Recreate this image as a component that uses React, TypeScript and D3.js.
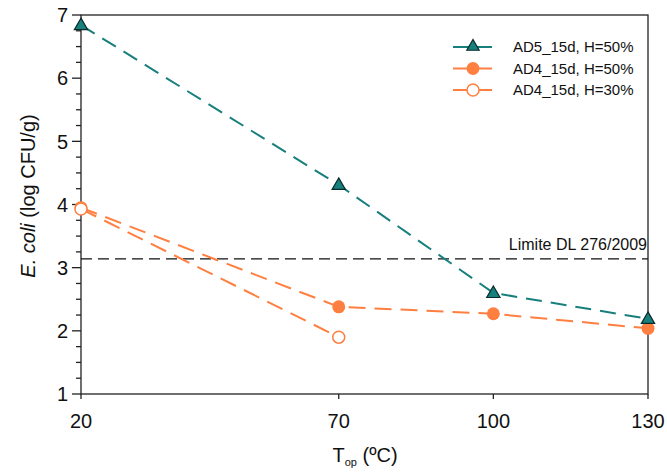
import React from "react";
import * as d3 from "d3";

const temps = [20, 70, 100, 130];
const ad5H50 = [6.84, 4.31, 2.6, 2.19];
const ad4H50 = [3.95, 2.38, 2.27, 2.04];
const ad4H30T = [20, 70];
const ad4H30 = [3.93, 1.9];
const limitValue = 3.14;
const limitLabel = "Limite DL 276/2009";
const yTicks = [1, 2, 3, 4, 5, 6, 7];
const legendLabels = ["AD5_15d, H=50%", "AD4_15d, H=50%", "AD4_15d, H=30%"];

const TEAL = "#17807d";
const ORANGE = "#ff7f40";
const FONT = "Liberation Sans, Arial, sans-serif";

export default function App() {
  const W = 667, H = 472;
  const x = d3.scaleLinear().domain([20, 130]).range([81, 648]);
  const y = d3.scaleLinear().domain([1, 7]).range([394, 15]);
  const line = d3.line<[number, number]>().x(d => x(d[0])).y(d => y(d[1]));
  const minor = d3.range(1, 7.001, 0.25).filter(v => Math.abs(v - Math.round(v)) > 1e-6);

  const s1 = temps.map((t, i) => [t, ad5H50[i]] as [number, number]);
  const s2 = temps.map((t, i) => [t, ad4H50[i]] as [number, number]);
  const s3 = ad4H30T.map((t, i) => [t, ad4H30[i]] as [number, number]);

  const tri = (cx: number, cy: number, r = 7) =>
    `M${cx},${cy - r} L${cx + r * 0.95},${cy + r * 0.65} L${cx - r * 0.95},${cy + r * 0.65} Z`;

  const [x0, x1] = x.range();
  const [yb, yt] = y.range();

  return (
    <svg width={W} height={H} style={{ position: "absolute", left: 0, top: 0, fontFamily: FONT }}>
      <rect width={W} height={H} fill="white" />
      {/* frame */}
      <rect x={x0} y={yt} width={x1 - x0} height={yb - yt} fill="none" stroke="#222" strokeWidth={1.3} />
      {/* y ticks */}
      {yTicks.map(v => (
        <g key={"yt" + v}>
          <line x1={x0 - 9} x2={x0} y1={y(v)} y2={y(v)} stroke="#222" strokeWidth={1.3} />
          <text x={x0 - 13} y={y(v)} dy="0.36em" textAnchor="end" fontSize={20} fill="#111">{v}</text>
        </g>
      ))}
      {minor.map(v => (
        <line key={"ym" + v} x1={x0 - 5} x2={x0} y1={y(v)} y2={y(v)} stroke="#222" strokeWidth={1.3} />
      ))}
      {/* x ticks */}
      {temps.map(t => (
        <g key={"xt" + t}>
          <line x1={x(t)} x2={x(t)} y1={yb} y2={yb + 5} stroke="#222" strokeWidth={1.3} />
          <text x={x(t)} y={yb + 34} textAnchor="middle" fontSize={20} fill="#111">{t}</text>
        </g>
      ))}
      {/* axis titles */}
      <text x={365} y={462} textAnchor="middle" fontSize={20} fill="#111">
        T<tspan fontSize={11} dy={4}>op</tspan><tspan dy={-4}> (ºC)</tspan>
      </text>
      <text transform={`translate(35,196) rotate(-90)`} textAnchor="middle" fontSize={20} fill="#111">
        <tspan fontStyle="italic">E. coli</tspan> (log CFU/g)
      </text>
      {/* limit line */}
      <line x1={x0} x2={x1} y1={y(limitValue)} y2={y(limitValue)} stroke="#111" strokeWidth={1.2} strokeDasharray="11,6" />
      <text x={x1 - 1} y={y(limitValue) - 9} textAnchor="end" fontSize={16} fill="#111">{limitLabel}</text>
      {/* series lines */}
      <path d={line(s2) || ""} fill="none" stroke={ORANGE} strokeWidth={2} strokeDasharray="17,9" />
      <path d={line(s3) || ""} fill="none" stroke={ORANGE} strokeWidth={2} strokeDasharray="17,9" />
      <path d={line(s1) || ""} fill="none" stroke={TEAL} strokeWidth={2} strokeDasharray="16,9" />
      {/* markers */}
      {s2.map((d, i) => (
        <circle key={"c2" + i} cx={x(d[0])} cy={y(d[1])} r={6.5} fill={ORANGE} />
      ))}
      {s3.map((d, i) => (
        <circle key={"c3" + i} cx={x(d[0])} cy={y(d[1])} r={6} fill="white" stroke={ORANGE} strokeWidth={1.5} />
      ))}
      {s1.map((d, i) => (
        <path key={"t1" + i} d={tri(x(d[0]), y(d[1]))} fill={TEAL} stroke="#0a2a2a" strokeWidth={1.2} />
      ))}
      {/* legend */}
      {legendLabels.map((lab, i) => {
        const ly = 47 + i * 21.5;
        return (
          <g key={"lg" + i}>
            <line x1={453} x2={492} y1={ly} y2={ly} stroke={i === 0 ? TEAL : ORANGE} strokeWidth={2} />
            {i === 0 && <path d={tri(473, ly - 1, 6.5)} fill={TEAL} stroke="#0a2a2a" strokeWidth={1.2} />}
            {i === 1 && <circle cx={473} cy={ly} r={6.5} fill={ORANGE} />}
            {i === 2 && <circle cx={473} cy={ly} r={6} fill="white" stroke={ORANGE} strokeWidth={1.5} />}
            <text x={513} y={ly} dy="0.36em" fontSize={15} fill="#111">{lab}</text>
          </g>
        );
      })}
    </svg>
  );
}
